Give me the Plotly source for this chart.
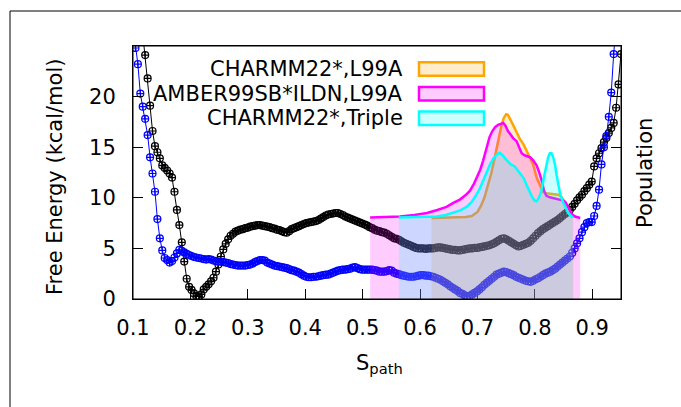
import numpy as np
import plotly.graph_objects as go

# ---------------- data ----------------
# reaction coordinate grid shared by both free-energy profiles
s_path = np.round(0.1 + 0.00425 * np.arange(201), 5)

# free energy profile, CHARMM22* L99A (kcal/mol)
fe_charmm_l99a = [
    40.0, 37.0, 31.0, 28.6, 26.3, 24.1, 21.8, 19.1, 16.6, 15.1,
    14.5, 13.9, 13.2, 12.95, 12.7, 12.4, 12.0, 10.6, 8.8, 7.3,
    5.6, 3.7, 2.0, 1.2, 0.9, 0.55, 0.3, 0.25, 0.45, 0.95,
    1.2, 1.45, 1.75, 2.1, 2.7, 3.4, 4.2, 4.9, 5.45, 5.9,
    6.25, 6.45, 6.65, 6.75, 6.85, 6.9, 7.0, 7.05, 7.15, 7.2,
    7.25, 7.3, 7.3, 7.25, 7.2, 7.15, 7.1, 7.0, 6.95, 6.85,
    6.8, 6.7, 6.6, 6.55, 6.7, 6.9, 7.0, 7.1, 7.2, 7.3,
    7.4, 7.5, 7.55, 7.6, 7.65, 7.7, 7.8, 7.95, 8.1, 8.25,
    8.35, 8.4, 8.45, 8.5, 8.5, 8.4, 8.3, 8.15, 8.05, 7.95,
    7.85, 7.75, 7.65, 7.55, 7.45, 7.35, 7.25, 7.1, 7.0, 6.85,
    6.75, 6.7, 6.6, 6.55, 6.45, 6.3, 6.15, 6.0, 5.95, 5.85,
    5.7, 5.55, 5.45, 5.35, 5.25, 5.15, 5.05, 5.0, 5.0, 5.0,
    4.95, 5.0, 5.0, 5.0, 5.05, 5.1, 5.1, 5.05, 5.0, 4.95,
    4.9, 4.85, 4.85, 4.8, 4.8, 4.85, 4.9, 4.95, 5.0, 5.0,
    5.05, 5.05, 5.1, 5.15, 5.2, 5.25, 5.3, 5.4, 5.5, 5.65,
    5.8, 5.95, 6.0, 5.9, 5.75, 5.6, 5.45, 5.3, 5.2, 5.25,
    5.35, 5.45, 5.55, 5.75, 6.0, 6.25, 6.5, 6.7, 6.9, 7.05,
    7.2, 7.35, 7.5, 7.65, 7.8, 8.0, 8.2, 8.4, 8.55, 8.8,
    9.1, 9.4, 9.75, 10.05, 10.3, 10.65, 10.95, 11.3, 11.6, 13.1,
    13.9, 14.4, 14.9, 15.5, 15.9, 16.4, 16.9, 17.4, 18.9, 21.2,
    24.2,
]

# free energy profile, AMBER99SB*-ILDN L99A (kcal/mol)
fe_amber_l99a = [
    27.0, 24.8, 23.2, 20.3, 19.0, 17.8, 16.2, 14.0, 12.4, 10.6,
    7.9, 6.0, 4.8, 4.05, 3.85, 3.6, 3.75, 4.1, 4.5, 4.85,
    4.75, 4.6, 4.45, 4.35, 4.25, 4.15, 4.1, 4.05, 4.0, 3.95,
    3.9, 3.95, 3.9, 3.8, 3.75, 3.7, 3.7, 3.65, 3.6, 3.55,
    3.45, 3.4, 3.35, 3.3, 3.3, 3.3, 3.3, 3.35, 3.4, 3.5,
    3.65, 3.75, 3.85, 3.85, 3.8, 3.6, 3.5, 3.4, 3.3, 3.25,
    3.2, 3.15, 3.1, 3.05, 2.95, 2.85, 2.8, 2.7, 2.6, 2.45,
    2.3, 2.2, 2.15, 2.15, 2.2, 2.2, 2.25, 2.3, 2.35, 2.4,
    2.4, 2.5, 2.6, 2.7, 2.8, 2.85, 2.9, 2.9, 2.95, 3.0,
    3.1, 3.15, 3.05, 2.95, 2.9, 2.9, 2.9, 2.9, 2.9, 2.85,
    2.8, 2.7, 2.7, 2.7, 2.75, 2.85, 2.8, 2.6, 2.5, 2.45,
    2.35, 2.3, 2.25, 2.2, 2.2, 2.2, 2.25, 2.3, 2.35, 2.35,
    2.3, 2.3, 2.25, 2.2, 2.1, 2.0, 1.9, 1.75, 1.6, 1.45,
    1.25, 1.1, 0.95, 0.8, 0.6, 0.5, 0.35, 0.25, 0.3, 0.45,
    0.6, 0.75, 0.95, 1.15, 1.4, 1.6, 1.8, 2.0, 2.2, 2.4,
    2.5, 2.6, 2.7, 2.65, 2.55, 2.45, 2.35, 2.2, 2.1, 2.0,
    1.9, 1.8, 1.75, 1.7, 1.8, 1.95, 2.05, 2.2, 2.35, 2.5,
    2.6, 2.7, 2.85, 3.0, 3.2, 3.4, 3.6, 3.8, 4.0, 4.2,
    4.55, 5.0, 5.5, 6.0, 6.6, 7.1, 7.5, 7.6, 7.6, 8.2,
    9.2, 10.8, 13.3, 15.0, 16.1, 18.0, 20.4, 24.2, 27.0, 30.0,
    33.0,
]

# population histograms (arbitrary units, zero = no population)
pop_c22_l99a_s = [0.620, 0.650, 0.680, 0.690, 0.700, 0.706, 0.712, 0.718, 0.724, 0.729,
                  0.734, 0.738, 0.742, 0.746, 0.750, 0.753, 0.757, 0.762, 0.768, 0.774,
                  0.780, 0.786, 0.792, 0.797, 0.803, 0.809, 0.814, 0.819, 0.826, 0.834,
                  0.841, 0.846, 0.851, 0.855, 0.860, 0.864, 0.867]
pop_c22_l99a = [0.0, 0.02, 0.1, 0.2, 0.6, 1.2, 2.0, 3.2, 4.4, 5.7,
                7.0, 8.2, 9.2, 9.9, 10.25, 10.2, 9.8, 9.2, 8.5, 7.8,
                7.3, 6.6, 6.0, 5.3, 4.0, 3.2, 2.6, 2.45, 2.4, 2.35,
                2.3, 2.1, 1.7, 1.1, 0.6, 0.3, 0.05]

pop_amber_l99a_s = [0.513, 0.540, 0.565, 0.590, 0.612, 0.630, 0.646, 0.658, 0.670, 0.680,
                    0.687, 0.694, 0.700, 0.705, 0.710, 0.716, 0.721, 0.726, 0.731, 0.736,
                    0.741, 0.745, 0.749, 0.753, 0.757, 0.762, 0.768, 0.773, 0.777, 0.782,
                    0.787, 0.792, 0.797, 0.803, 0.807, 0.812, 0.816, 0.820, 0.826, 0.834,
                    0.841, 0.848, 0.853, 0.857, 0.861, 0.865, 0.870, 0.876, 0.879]
pop_amber_l99a = [0.05, 0.08, 0.15, 0.3, 0.5, 0.8, 1.1, 1.5, 1.85, 2.3,
                  2.7, 3.4, 4.2, 4.8, 5.7, 6.9, 8.0, 8.6, 9.0, 9.2,
                  9.3, 9.4, 9.1, 8.6, 8.3, 7.9, 7.6, 7.0, 6.4, 6.2,
                  6.1, 6.0, 5.7, 5.2, 4.6, 3.7, 2.7, 2.2, 2.05, 1.95,
                  1.85, 1.75, 1.6, 1.2, 0.7, 0.35, 0.15, 0.05, 0.0]

pop_c22_triple_s = [0.563, 0.600, 0.629, 0.645, 0.658, 0.670, 0.681, 0.690, 0.697, 0.704,
                    0.710, 0.716, 0.722, 0.728, 0.734, 0.739, 0.744, 0.748, 0.753, 0.758,
                    0.765, 0.770, 0.775, 0.781, 0.786, 0.791, 0.796, 0.800, 0.803, 0.807,
                    0.811, 0.815, 0.819, 0.823, 0.826, 0.829, 0.832, 0.835, 0.838, 0.841,
                    0.844, 0.848, 0.853, 0.858, 0.862, 0.866]
pop_c22_triple = [0.05, 0.1, 0.15, 0.3, 0.5, 0.75, 1.1, 1.6, 2.2, 2.9,
                  3.7, 4.6, 5.3, 5.9, 6.3, 6.45, 6.2, 5.9, 5.6, 5.3,
                  5.1, 4.7, 4.4, 3.9, 3.2, 2.6, 2.0, 1.7, 1.65, 2.0,
                  2.6, 3.8, 4.9, 6.0, 6.4, 6.4, 6.0, 5.3, 4.2, 3.4,
                  2.4, 1.7, 1.1, 0.5, 0.25, 0.05]

legend_labels = ["CHARMM22*,L99A", "AMBER99SB*ILDN,L99A", "CHARMM22*,Triple"]
x_ticks = [0.1, 0.2, 0.3, 0.4, 0.5, 0.6, 0.7, 0.8, 0.9]
y_ticks = [0, 5, 10, 15, 20]

# ---------------- styling / geometry ----------------
W, H = 681, 407
L, R, T, B = 133, 60, 46, 108
PW, PH = W - L - R, H - T - B
FONT = "DejaVu Sans"
FS = 21
POP_MIN, POP_MAX = -8, 17   # population axis range aligned with free-energy axis

def fx(p):
    return (p - L) / PW

def fy(p):
    return (H - B - p) / PH

colors = [(255, 165, 0), (255, 0, 255), (0, 255, 255)]
line_col = ["rgb(%d,%d,%d)" % c for c in colors]
fill_col = ["rgba(%d,%d,%d,0.2)" % c for c in colors]

fig = go.Figure()

# free-energy profiles
fig.add_trace(go.Scatter(
    x=s_path, y=fe_charmm_l99a, mode="lines+markers",
    line=dict(color="black", width=1),
    marker=dict(symbol="circle-cross-open", size=7, color="black", line=dict(width=1.2)),
    hoverinfo="skip"))
fig.add_trace(go.Scatter(
    x=s_path, y=fe_amber_l99a, mode="lines+markers",
    line=dict(color="blue", width=1),
    marker=dict(symbol="circle-cross-open", size=7, color="blue", line=dict(width=1.2)),
    hoverinfo="skip"))

# population histograms: translucent area down to the bottom axis, then the outline
pops = [(pop_c22_l99a_s, pop_c22_l99a),
        (pop_amber_l99a_s, pop_amber_l99a),
        (pop_c22_triple_s, pop_c22_triple)]
for (sx, py), lc, fc in zip(pops, line_col, fill_col):
    fig.add_trace(go.Scatter(
        x=list(sx) + [sx[-1], sx[0]], y=list(py) + [POP_MIN, POP_MIN],
        yaxis="y2", mode="lines", fill="toself", fillcolor=fc,
        line=dict(width=0), hoverinfo="skip"))
    fig.add_trace(go.Scatter(
        x=sx, y=py, yaxis="y2", mode="lines",
        line=dict(color=lc, width=2.5), hoverinfo="skip"))

shapes = [
    # plot frame
    dict(type="rect", xref="paper", yref="paper", x0=0, x1=1, y0=0, y1=1,
         line=dict(color="black", width=1), layer="above"),
    # outer canvas border
    dict(type="line", xref="paper", yref="paper", x0=fx(10), x1=fx(10), y0=fy(11), y1=fy(430),
         line=dict(color="black", width=1)),
    dict(type="line", xref="paper", yref="paper", x0=fx(10), x1=fx(700), y0=fy(11), y1=fy(11),
         line=dict(color="black", width=1)),
]
annotations = []
row_y = [69, 93.7, 118.3]
for lab, yc, lc, fc in zip(legend_labels, row_y, line_col, fill_col):
    annotations.append(dict(text=lab, xref="paper", yref="paper", x=fx(405), y=fy(yc),
                            xanchor="right", yanchor="middle", showarrow=False,
                            font=dict(family=FONT, size=FS, color="black")))
    shapes.append(dict(type="rect", xref="paper", yref="paper",
                       x0=fx(419), x1=fx(484), y0=fy(yc + 6.7), y1=fy(yc - 6.7),
                       line=dict(color=lc, width=2.5), fillcolor=fc, layer="above"))

annotations += [
    dict(text="Free Energy (kcal/mol)", xref="paper", yref="paper", x=fx(55), y=fy(177),
         textangle=-90, showarrow=False, xanchor="center", yanchor="middle",
         font=dict(family=FONT, size=FS, color="black")),
    dict(text="Population", xref="paper", yref="paper", x=fx(645), y=fy(173),
         textangle=-90, showarrow=False, xanchor="center", yanchor="middle",
         font=dict(family=FONT, size=FS, color="black")),
    dict(text="S<sub>path</sub>", xref="paper", yref="paper", x=fx(379), y=fy(364),
         showarrow=False, xanchor="center", yanchor="middle",
         font=dict(family=FONT, size=FS, color="black")),
]

fig.update_layout(
    width=W, height=H, margin=dict(l=L, r=R, t=T, b=B, pad=0),
    paper_bgcolor="white", plot_bgcolor="white", showlegend=False,
    font=dict(family=FONT, size=FS, color="black"),
    xaxis=dict(range=[0.1, 0.95], tickvals=x_ticks, ticktext=[str(v) for v in x_ticks],
               ticks="inside", ticklen=10, tickcolor="black", tickwidth=1,
               showline=True, linecolor="black", mirror=True, showgrid=False,
               zeroline=False, layer="below traces", ticklabelstandoff=10,
               tickfont=dict(family=FONT, size=FS, color="black")),
    yaxis=dict(range=[0, 25], tickvals=y_ticks, ticks="inside", ticklen=10,
               tickcolor="black", tickwidth=1, showline=True, linecolor="black",
               mirror="ticks", showgrid=False, zeroline=False, ticklabelstandoff=12,
               tickfont=dict(family=FONT, size=FS, color="black")),
    yaxis2=dict(range=[POP_MIN, POP_MAX], overlaying="y", side="right",
                showticklabels=False, ticks="", showgrid=False, zeroline=False,
                showline=False),
    shapes=shapes, annotations=annotations,
)

fig.write_html("out.html")
